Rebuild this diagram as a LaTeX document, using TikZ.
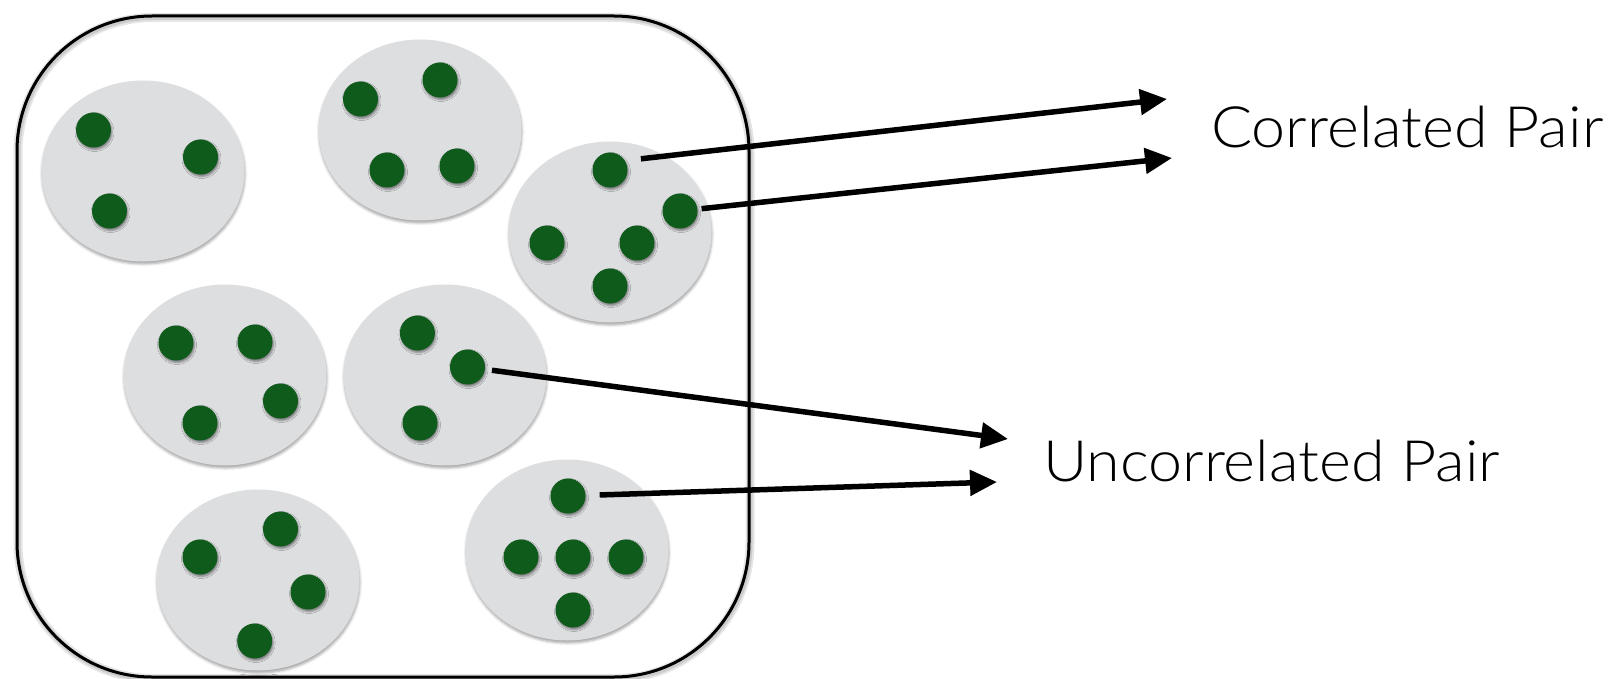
\documentclass[tikz,border=0pt]{standalone}
\usepackage{fontspec}
\setmainfont{TeX Gyre Heros}
\IfFontExistsTF{Lato Light}
  {\newfontfamily\pairfont{Lato Light}[FakeStretch=1.07]}
  {\newfontfamily\pairfont{TeX Gyre Heros}}
\usetikzlibrary{arrows.meta,shapes.geometric,shadows.blur}
\definecolor{blobgray}{RGB}{221,222,224}
\definecolor{seedgreen}{RGB}{14,91,27}
\begin{document}
\begin{tikzpicture}[x=1pt,y=-1pt,
  blob/.style={ellipse, fill=blobgray, inner sep=0pt, minimum width=203pt, minimum height=181pt,
    blur shadow={shadow xshift=0.5pt, shadow yshift=-2.5pt, shadow blur radius=2.5pt, shadow opacity=35}},
  seed/.style={circle, fill=seedgreen, inner sep=0pt, minimum size=35pt,
    blur shadow={shadow xshift=1pt, shadow yshift=-2pt, shadow blur radius=2pt, shadow opacity=45}},
  link/.style={line width=5.5pt, -{Triangle[length=27pt,width=25pt]}},
  frameline/.style={rounded corners=135pt, minimum width=732pt, minimum height=661pt, inner sep=0pt},
  pairtext/.style={anchor=base west, inner sep=0pt, font=\pairfont\fontsize{57}{60}\selectfont}
]
\useasboundingbox (0,0) rectangle (1621,679);

% outer frame with a soft shade around its line
\node[frameline, draw=black!10, line width=9pt] (frameglow) at (384,348) {};
\node[frameline, draw=black!20, line width=5pt] (frameshade) at (384,348) {};
\node[frameline, draw=black, line width=3pt] (frame) at (383,346.5) {};

% clusters
\node[blob] (e1) at (143,171) {};
\node[blob] (e2) at (420,130) {};
\node[blob] (e3) at (610,232) {};
\node[blob] (e4) at (225,375) {};
\node[blob] (e5) at (445,375) {};
\node[blob] (e6) at (567,550) {};
\node[blob] (e7) at (258,580) {};

% members
\node[seed] (d11) at (93.5,130) {};
\node[seed] (d12) at (200.5,157) {};
\node[seed] (d13) at (109.5,211) {};

\node[seed] (d21) at (360.5,99) {};
\node[seed] (d22) at (440,80) {};
\node[seed] (d23) at (387,170) {};
\node[seed] (d24) at (457,166) {};

\node[seed] (d31) at (610,170) {};
\node[seed] (d32) at (680,211) {};
\node[seed] (d33) at (547,243) {};
\node[seed] (d34) at (637,243) {};
\node[seed] (d35) at (610,286) {};

\node[seed] (d41) at (176,343) {};
\node[seed] (d42) at (255,342) {};
\node[seed] (d43) at (280.5,401) {};
\node[seed] (d44) at (200,423) {};

\node[seed] (d51) at (417.4,333) {};
\node[seed] (d52) at (467.5,367) {};
\node[seed] (d53) at (420,423) {};

\node[seed] (d61) at (568,496) {};
\node[seed] (d62) at (521,557) {};
\node[seed] (d63) at (573,557) {};
\node[seed] (d64) at (626,557) {};
\node[seed] (d65) at (573,610) {};

\node[seed] (d71) at (200,557) {};
\node[seed] (d72) at (280.5,529) {};
\node[seed] (d73) at (308,592) {};
\node[seed] (d74) at (254.7,641) {};

% captions
\node[pairtext] (ct) at (1211,148) {Correlated Pair};
\node[pairtext] (ut) at (1043,481) {Uncorrelated Pair};

% arrow targets
\coordinate (t1) at (1167,99);
\coordinate (t2) at (1172,158);
\coordinate (t3) at (1008,439);
\coordinate (t4) at (997,482);

% arrows
\draw[link, shorten <=16pt] (d31.32) -- (t1);
\draw[link, shorten <=4pt] (d32) -- (t2);
\draw[link, shorten <=7pt] (d52) -- (t3);
\draw[link, shorten <=14pt] (d61) -- (t4);
\end{tikzpicture}
\end{document}
